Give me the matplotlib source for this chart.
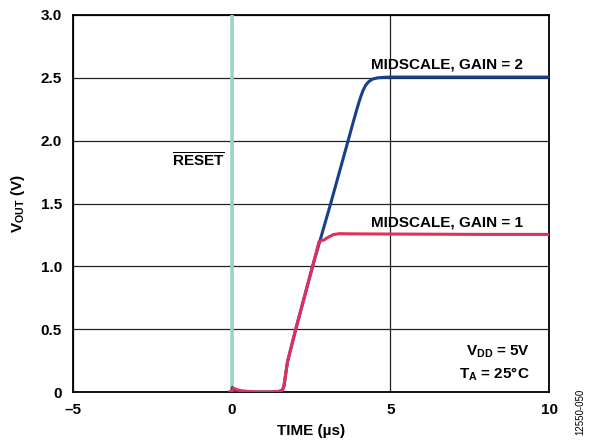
import matplotlib.pyplot as plt
from matplotlib.ticker import FixedLocator

plt.rcParams["font.family"] = ["Liberation Sans", "DejaVu Sans"]
plt.rcParams["font.weight"] = "bold"
plt.rcParams["mathtext.fontset"] = "custom"
plt.rcParams["mathtext.rm"] = "Liberation Sans:bold"
plt.rcParams["mathtext.bf"] = "Liberation Sans:bold"
plt.rcParams["mathtext.it"] = "Liberation Sans:bold"

# time (us) / voltage (V)
t_gain1 = [-0.05, 0.0, 0.05, 0.15, 0.3, 0.5, 0.8, 1.2, 1.5, 1.6, 1.65, 1.7, 1.76,
           2.02, 2.55, 2.75, 2.83, 2.91, 3.0, 3.07, 3.2, 3.39, 3.6, 4.0, 5.0,
           6.0, 7.0, 8.0, 9.0, 10.0]
v_gain1 = [0.0, 0.0, 0.03, 0.02, 0.01, 0.005, 0.0, 0.0, 0.005, 0.015, 0.05, 0.14, 0.24,
           0.5, 1.0, 1.196, 1.205, 1.21, 1.225, 1.235, 1.252, 1.26, 1.259, 1.258, 1.257,
           1.256, 1.255, 1.254, 1.254, 1.254]

t_gain2 = [-0.05, 0.0, 0.02, 0.08, 0.3, 0.8, 1.2, 1.5, 1.6, 1.65, 1.7, 1.76,
           2.02, 2.55, 3.12, 3.67, 3.8, 3.9, 3.98, 4.06, 4.14, 4.22, 4.32, 4.44,
           4.6, 4.8, 5.0, 6.0, 7.0, 8.0, 9.0, 10.0]
v_gain2 = [0.0, 0.0, 0.035, 0.01, 0.0, 0.0, 0.0, 0.005, 0.015, 0.05, 0.14, 0.24,
           0.5, 1.0, 1.5, 2.0, 2.12, 2.21, 2.28, 2.345, 2.4, 2.44, 2.47, 2.49,
           2.5, 2.504, 2.506, 2.506, 2.506, 2.506, 2.506, 2.506]

x_ticks = [-5, 0, 5, 10]
x_tick_labels = ["\u20135", "0", "5", "10"]
y_ticks = [0, 0.5, 1.0, 1.5, 2.0, 2.5, 3.0]
y_tick_labels = ["0", "0.5", "1.0", "1.5", "2.0", "2.5", "3.0"]

FS = 11

fig = plt.figure(figsize=(5.91, 4.47), dpi=100)
ax = fig.add_axes([73 / 591, 55 / 447, 476 / 591, 377 / 447])

ax.set_xlim(-5, 10)
ax.set_ylim(0, 3.0)
ax.xaxis.set_major_locator(FixedLocator(x_ticks))
ax.yaxis.set_major_locator(FixedLocator(y_ticks))
ax.set_xticklabels(x_tick_labels, fontsize=FS, fontweight="bold")
ax.set_yticklabels(y_tick_labels, fontsize=FS, fontweight="bold")
ax.tick_params(length=0, pad=8)
ax.grid(True, color="#222222", linewidth=0.9)
ax.set_axisbelow(True)
for s in ax.spines.values():
    s.set_linewidth(1.3)
    s.set_color("black")

ax.axvline(0, color="#9dd4bb", linewidth=2.6, zorder=3)
ax.plot(t_gain2, v_gain2, color="#173f8c", linewidth=2.2, zorder=4)
ax.plot(t_gain1, v_gain1, color="#e0305a", linewidth=2.2, zorder=5)

ax.text(-0.2, 1.84, r"$\overline{\mathbf{RESET}}$", ha="right", va="center",
        fontsize=FS, fontweight="bold")
ax.text(6.8, 2.61, "MIDSCALE, GAIN = 2", ha="center", va="center",
        fontsize=FS, fontweight="bold")
ax.text(6.8, 1.35, "MIDSCALE, GAIN = 1", ha="center", va="center",
        fontsize=FS, fontweight="bold")
ax.text(9.4, 0.32, r"V$_{\mathbf{DD}}$ = 5V", ha="right", va="center",
        fontsize=FS, fontweight="bold")
ax.text(9.4, 0.14, r"T$_{\mathbf{A}}$ = 25°C", ha="right", va="center",
        fontsize=FS, fontweight="bold")

ax.set_xlabel("TIME (µs)", fontsize=FS, fontweight="bold", labelpad=5)
ax.set_ylabel(r"V$_{\mathbf{OUT}}$ (V)", fontsize=FS, fontweight="bold", labelpad=10)

fig.text(580 / 591, 1 - 412 / 447, "12550-050", rotation=90, ha="center",
         va="center", fontsize=7, fontweight="normal")

fig.savefig("out.png", dpi=100)
